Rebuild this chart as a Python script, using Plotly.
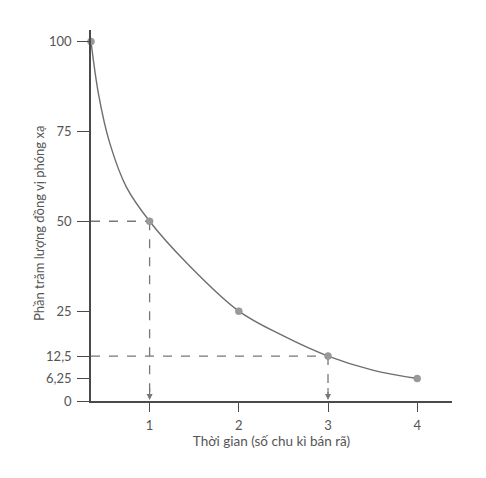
import plotly.graph_objects as go

# Data
point_t = [0.343, 1, 2, 3, 4]
point_pct = [100, 50, 25, 12.5, 6.25]

curve_t = [0.343, 0.43, 0.55, 0.74, 1, 1.4, 2, 2.5, 3, 3.5, 4]
curve_pct = [100, 85, 72, 59.5, 50, 38.8, 25, 18.1, 12.5, 8.6, 6.25]

ytick_vals = [0, 6.25, 12.5, 25, 50, 75, 100]
ytick_text = ["0", "6,25", "12,5", "25", "50", "75", "100"]
xtick_vals = [1, 2, 3, 4]
xtick_text = ["1", "2", "3", "4"]

guide_t = [1, 3]
guide_pct = [50, 12.5]

x_min, x_max = 0.343, 4.39
y_min, y_max = 0, 103.2

line_col = "#6e6e6e"
axis_col = "#4a4a4a"
text_col = "#555555"
font_family = "Lato, 'Open Sans', sans-serif"

fig = go.Figure()

# dashed guides
for gt, gp in zip(guide_t, guide_pct):
    fig.add_trace(go.Scatter(x=[x_min, gt], y=[gp, gp], mode="lines",
                             line=dict(color="#777777", width=1.3, dash="dash"),
                             hoverinfo="skip", showlegend=False, cliponaxis=False))
    fig.add_trace(go.Scatter(x=[gt, gt], y=[gp, 1.5], mode="lines",
                             line=dict(color="#777777", width=1.3, dash="dash"),
                             hoverinfo="skip", showlegend=False, cliponaxis=False))
    fig.add_annotation(x=gt, y=0.3, ax=gt, ay=4, xref="x", yref="y", axref="x", ayref="y",
                       showarrow=True, arrowhead=2, arrowsize=1, arrowwidth=1.2,
                       arrowcolor="#777777", text="")

fig.add_trace(go.Scatter(x=curve_t, y=curve_pct, mode="lines",
                         line=dict(color=line_col, width=1.4, shape="spline", smoothing=1.0),
                         showlegend=False, cliponaxis=False))
fig.add_trace(go.Scatter(x=point_t, y=point_pct, mode="markers",
                         marker=dict(color="#9a9a9a", size=7, line=dict(color="#8a8a8a", width=0.5)),
                         showlegend=False, cliponaxis=False))

# y-axis title placed as in the reference (slightly below the plot centre)
fig.add_annotation(text="Phần trăm lượng đồng vị phóng xạ", xref="paper", yref="paper",
                   x=-0.144, y=0.477, xanchor="center", yanchor="middle",
                   textangle=-90, showarrow=False, font=dict(size=13, color=text_col))

fig.update_layout(
    width=478, height=470,
    margin=dict(l=83, r=34, t=22, b=77, autoexpand=False),
    paper_bgcolor="white", plot_bgcolor="white",
    font=dict(family=font_family, size=13, color=text_col),
    xaxis=dict(range=[x_min, x_max], showgrid=False, zeroline=False, automargin=False,
               showline=True, linecolor=axis_col, linewidth=1.5,
               ticks="outside", ticklen=9, tickwidth=1.3, tickcolor=axis_col,
               ticklabelstandoff=3,
               tickvals=xtick_vals, ticktext=xtick_text,
               title=dict(text="Thời gian (số chu kì bán rã)", standoff=2,
                          font=dict(size=13.5, color=text_col))),
    yaxis=dict(range=[y_min, y_max], showgrid=False, zeroline=False, automargin=False,
               showline=True, linecolor=axis_col, linewidth=1.5,
               ticks="outside", ticklen=12, tickwidth=1.3, tickcolor=axis_col,
               ticklabelstandoff=3,
               tickvals=ytick_vals, ticktext=ytick_text),
)

fig.write_html("out.html")
